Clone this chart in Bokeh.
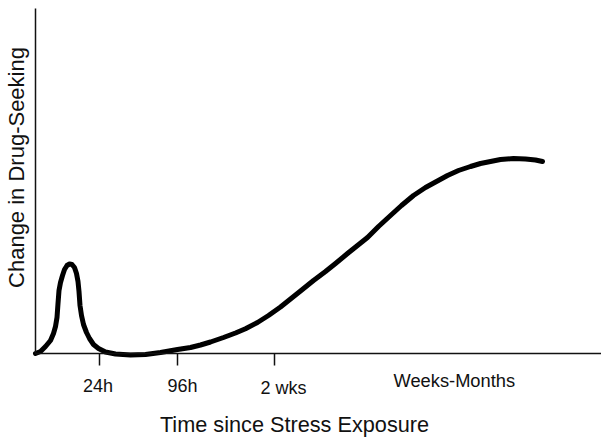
from bokeh.plotting import figure
from bokeh.models import Range1d, FixedTicker, LinearAxis
from bokeh.core.properties import value
from bokeh.embed import file_html
from bokeh.resources import INLINE

# Curve (x: time position, y: change in drug-seeking)
curve_x = [0, 5, 10, 15, 18, 20, 21.5, 22.5, 23.5, 25, 27, 29, 31.5, 34, 36.5, 39,
           41, 42.5, 43.5, 44.5, 46, 48, 51, 54, 58, 63, 70, 80, 95, 110, 125,
           142, 155, 165, 175, 188, 200, 210, 222, 233, 245, 255, 265, 278, 290,
           300, 312, 322, 332, 343, 355, 366, 378, 390, 401, 412, 423, 435, 445,
           455, 465, 478, 490, 500, 507]
curve_y = [0, 2, 7, 13, 20, 27, 36, 50, 63, 71, 78, 84, 88, 89.5, 89, 86,
           80, 72, 62, 48, 38, 29, 21, 15, 9, 5, 1.5, -0.5, -1.5, -1, 1,
           4, 6, 8.5, 11.5, 16, 20.5, 24.8, 31, 38, 46.5, 54.5, 62.5, 73, 82,
           90, 100, 108, 116, 127, 138, 148, 158, 166, 172, 178, 183, 187, 190,
           192, 194, 195, 194.5, 193.5, 192]

tick_pos = [63.8, 141.8, 239]
tick_labels = ["24h", "96h", "2 wks"]
tick_label_x = [62.5, 147, 248]
tick_label_y = [-32, -32, -34.3]
long_label = ["Weeks-Months"]
long_label_x = [418.8]
long_label_y = [-27]

x_title = "Time since Stress Exposure"
y_title = "Change in Drug-Seeking"

FONT = "Liberation Sans"
INK = "#111111"

p = figure(width=601, height=437, output_backend="svg", toolbar_location=None,
           x_range=Range1d(-35, 566), y_range=Range1d(-84, 353),
           x_axis_type=None, y_axis_type=None,
           min_border_left=0, min_border_right=0, min_border_top=0,
           min_border_bottom=0)
p.outline_line_color = None
p.background_fill_color = "white"
p.border_fill_color = "white"

# x axis located at y = 0
xaxis = LinearAxis(fixed_location=0, ticker=FixedTicker(ticks=tick_pos),
                   major_label_overrides={t: "" for t in tick_pos},
                   bounds=(0, 566))
xaxis.major_tick_out = 12
xaxis.major_tick_in = 0
xaxis.minor_tick_out = 0
xaxis.minor_tick_in = 0
xaxis.axis_line_width = 1.5
xaxis.major_tick_line_width = 1.5
xaxis.axis_line_color = INK
xaxis.major_tick_line_color = INK
p.add_layout(xaxis, "below")

# y axis located at x = 0
yaxis = LinearAxis(fixed_location=0, ticker=FixedTicker(ticks=[]),
                   bounds=(0, 345))
yaxis.major_tick_out = 0
yaxis.major_tick_in = 0
yaxis.minor_tick_out = 0
yaxis.minor_tick_in = 0
yaxis.axis_line_width = 1.5
yaxis.axis_line_color = INK
p.add_layout(yaxis, "left")

p.line(curve_x, curve_y, line_width=5, line_color="black",
       line_cap="round", line_join="round")

# tick labels
p.text(x=tick_label_x, y=tick_label_y, text=tick_labels, text_align="center",
       text_baseline="alphabetic", text_font=value(FONT),
       text_font_size="18px", text_color=INK)
p.text(x=long_label_x, y=long_label_y, text=long_label, text_align="center",
       text_baseline="alphabetic", text_font=value(FONT),
       text_font_size="18.3px", text_color=INK)

# axis titles
p.text(x=[259], y=[-71], text=[x_title], text_align="center",
       text_baseline="alphabetic", text_font=value(FONT),
       text_font_size="21.7px", text_color=INK)
p.text(x=[-19], y=[186], text=[y_title], angle=1.5707963,
       text_align="center", text_baseline="alphabetic",
       text_font=value(FONT), text_font_size="22px", text_color=INK)

open("out.html", "w").write(file_html(p, INLINE))
